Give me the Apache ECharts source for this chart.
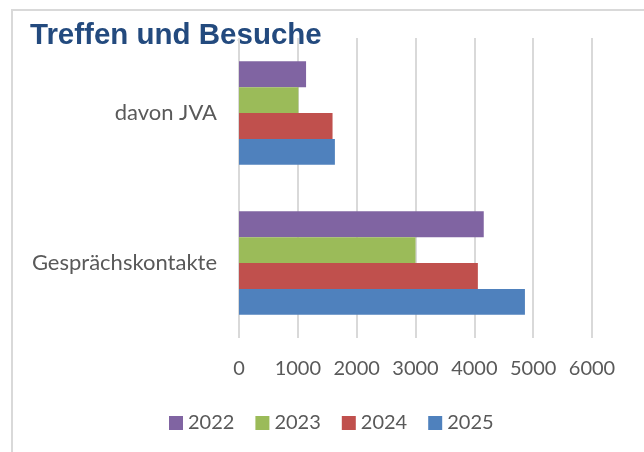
<!DOCTYPE html>
<html>
<head>
<meta charset="utf-8">
<script src="https://cdn.jsdelivr.net/npm/echarts@6/dist/echarts.min.js"></script>
<style>
html,body{margin:0;padding:0;background:#fff;}
#chart{width:644px;height:452px;}
</style>
</head>
<body>
<div id="chart"></div>
<script>
const categories = ['Gesprächskontakte', 'davon JVA'];
const years = ['2022', '2023', '2024', '2025'];
const values2022 = [4160, 1140];
const values2023 = [3000, 1010];
const values2024 = [4060, 1590];
const values2025 = [4860, 1630];
const xTicks = { min: 0, max: 6000, interval: 1000 };
const colors = { '2022': '#8064A2', '2023': '#9BBB59', '2024': '#C0504D', '2025': '#4F81BD' };

const seriesValues = { '2022': values2022, '2023': values2023, '2024': values2024, '2025': values2025 };

const chart = echarts.init(document.getElementById('chart'), null, { renderer: 'canvas' });
const labelFont = 'Lato';
chart.setOption({
  animation: false,
  backgroundColor: '#ffffff',
  graphic: [
    { type: 'rect', shape: { x: 12, y: 10, width: 700, height: 500 },
      style: { fill: 'none', stroke: '#d9d9d9', lineWidth: 2 }, silent: true },
    { type: 'text', left: 30, top: 21,
      style: { text: 'Treffen und Besuche', fill: '#234A7E',
        font: 'bold 29.5px "Liberation Sans", Arial, sans-serif' } }
  ],
  legend: {
    data: years,
    left: 169, top: 413, padding: 0,
    icon: 'rect', itemWidth: 14, itemHeight: 14, itemGap: 21,
    textStyle: { fontFamily: labelFont, fontSize: 20, color: '#595959' }
  },
  grid: { left: 239, right: 52, top: 38, bottom: 114, containLabel: false },
  xAxis: {
    type: 'value', min: xTicks.min, max: xTicks.max, interval: xTicks.interval,
    axisLine: { show: false }, axisTick: { show: false },
    splitLine: { show: true, lineStyle: { color: '#d9d9d9', width: 2 } },
    axisLabel: { fontFamily: labelFont, fontSize: 20, color: '#595959', margin: 21,
      formatter: v => String(v) }
  },
  yAxis: {
    type: 'category', data: categories,
    axisLine: { show: false }, axisTick: { show: false },
    axisLabel: { fontFamily: labelFont, fontSize: 22, color: '#595959', margin: 22 }
  },
  series: years.map(y => ({
    name: y, type: 'bar', data: seriesValues[y],
    barGap: '0%', barCategoryGap: '31%',
    itemStyle: { color: colors[y] }
  }))
});
</script>
</body>
</html>
